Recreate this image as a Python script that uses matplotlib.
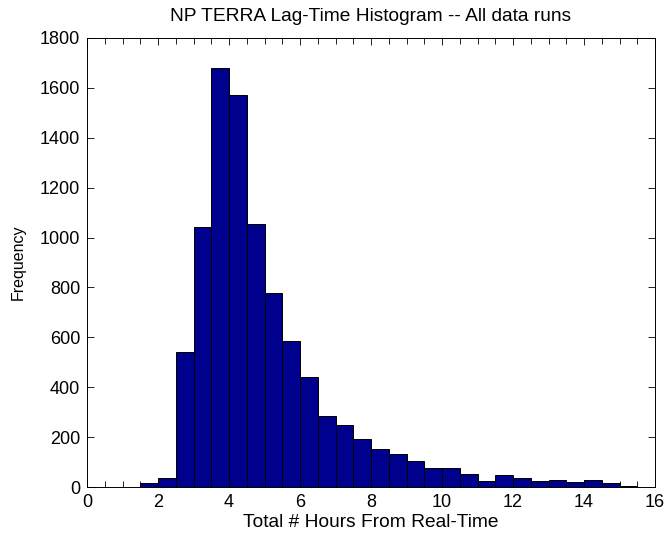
import matplotlib
matplotlib.use("Agg")
import matplotlib.pyplot as plt
from matplotlib.ticker import MultipleLocator

plt.rcParams['font.family'] = ['Liberation Sans', 'DejaVu Sans']

bin_edges_left = [1.5, 2.0, 2.5, 3.0, 3.5, 4.0, 4.5, 5.0, 5.5, 6.0, 6.5, 7.0, 7.5, 8.0,
                  8.5, 9.0, 9.5, 10.0, 10.5, 11.0, 11.5, 12.0, 12.5, 13.0, 13.5, 14.0, 14.5, 15.0]
counts = [17, 36, 541, 1042, 1680, 1572, 1055, 776, 586, 441, 286, 247, 191, 152,
          131, 104, 76, 76, 54, 26, 48, 37, 23, 28, 20, 28, 17, 5]
bin_width = 0.5

title = "NP TERRA Lag-Time Histogram -- All data runs"
xlabel = "Total # Hours From Real-Time"
ylabel = "Frequency"

fig = plt.figure(figsize=(6.67, 5.4), dpi=100)
ax = fig.add_axes([87/667, 53/540, (655-87)/667, (487-38)/540])

ax.bar(bin_edges_left, counts, width=bin_width, align='edge',
       color='#00008F', edgecolor='black', linewidth=0.7)

ax.set_xlim(0, 16)
ax.set_ylim(0, 1800)
ax.xaxis.set_major_locator(MultipleLocator(2))
ax.xaxis.set_minor_locator(MultipleLocator(0.5))
ax.yaxis.set_major_locator(MultipleLocator(200))
ax.tick_params(which='both', direction='in', top=True, right=True, labelsize=13, width=0.6)
ax.tick_params(which='major', length=5, pad=5)
ax.tick_params(which='minor', length=4)
for s in ax.spines.values():
    s.set_linewidth(0.7)

ax.set_title(title, fontsize=13.8, pad=12)
ax.set_xlabel(xlabel, fontsize=13.8, labelpad=2)
ax.set_ylabel(ylabel, fontsize=11.5, labelpad=10)

fig.savefig("out.png", dpi=100)
